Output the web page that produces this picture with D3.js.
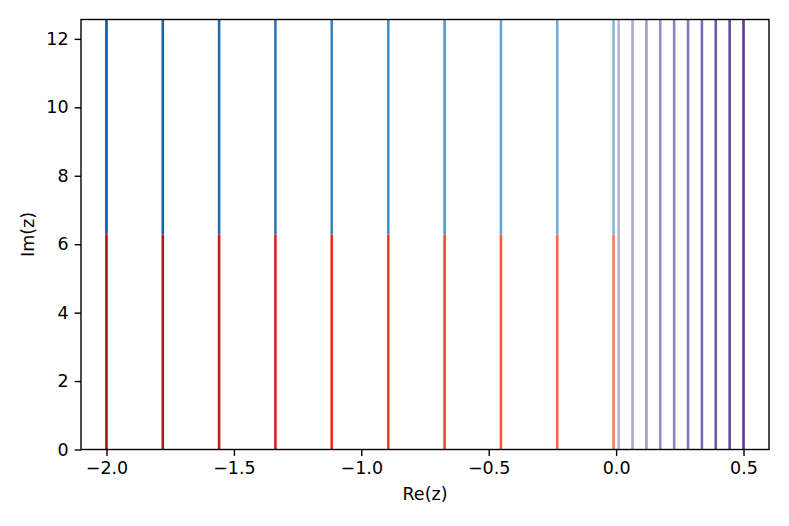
<!DOCTYPE html>
<html>
<head>
<meta charset="utf-8">
<script src="https://cdn.jsdelivr.net/npm/d3@7"></script>
<style>
  body { margin: 0; background: #fff; }
  text { font-family: "DejaVu Sans", sans-serif; }
</style>
</head>
<body>
<div id="chart"></div>
<script>
// vertical lines: left family split at Im = 2π (red below, blue above), right family purple
var leftX = [-2.0, -1.779, -1.558, -1.337, -1.116, -0.894, -0.673, -0.452, -0.231, -0.01];
var rightX = [0.01, 0.0644, 0.1189, 0.1733, 0.2278, 0.2822, 0.3367, 0.3911, 0.4456, 0.5];
var xTicks = [-2.0, -1.5, -1.0, -0.5, 0.0, 0.5];
var yTicks = [0, 2, 4, 6, 8, 10, 12];
var twoPi = 2 * Math.PI;

var margin = {top: 19.5, right: 20, bottom: 76.5, left: 81},
    width = 789 - margin.left - margin.right,
    height = 526 - margin.top - margin.bottom;

var x = d3.scaleLinear().domain([-2.1, 0.6]).range([0, width]);
var y = d3.scaleLinear().domain([0, 2 * twoPi]).range([height, 0]);

var svg = d3.select("#chart").append("svg")
    .attr("width", 789)
    .attr("height", 526)
  .append("g")
    .attr("transform", "translate(" + margin.left + "," + margin.top + ")");

var clip = svg.append("clipPath").attr("id", "clip")
  .append("rect").attr("width", width).attr("height", height);

var plot = svg.append("g").attr("clip-path", "url(#clip)");

function tL(i) { return 0.85 - 0.4 * i / (leftX.length - 1); }

// red lower halves
plot.selectAll(".red")
    .data(leftX)
  .enter().append("line")
    .attr("x1", function(d) { return x(d); })
    .attr("x2", function(d) { return x(d); })
    .attr("y1", y(0))
    .attr("y2", y(twoPi))
    .style("stroke", function(d, i) { return d3.interpolateReds(tL(i)); })
    .style("stroke-width", 2.6);

// blue upper halves
plot.selectAll(".blue")
    .data(leftX)
  .enter().append("line")
    .attr("x1", function(d) { return x(d); })
    .attr("x2", function(d) { return x(d); })
    .attr("y1", y(twoPi))
    .attr("y2", y(2 * twoPi))
    .style("stroke", function(d, i) { return d3.interpolateBlues(tL(i)); })
    .style("stroke-width", 2.6);

// purple full-height lines
plot.selectAll(".purple")
    .data(rightX)
  .enter().append("line")
    .attr("x1", function(d) { return x(d); })
    .attr("x2", function(d) { return x(d); })
    .attr("y1", y(0))
    .attr("y2", y(2 * twoPi))
    .style("stroke", function(d, i) { return d3.interpolatePurples(0.4 + 0.42 * i / (rightX.length - 1)); })
    .style("stroke-width", 2.6);

var fmtX = function(d) { return d3.format(".1f")(d).replace("-", "\u2212"); };

var xAxis = svg.append("g")
    .attr("transform", "translate(0," + height + ")")
    .call(d3.axisBottom(x).tickValues(xTicks).tickFormat(fmtX).tickSize(6.4).tickPadding(6));

var yAxis = svg.append("g")
    .call(d3.axisLeft(y).tickValues(yTicks).tickFormat(d3.format("d")).tickSize(6.4).tickPadding(6));

[xAxis, yAxis].forEach(function(a) {
  a.select(".domain").remove();
  a.selectAll("line").style("stroke", "#000").style("stroke-width", 1.4);
  a.selectAll("text").style("font-size", "17.5px").style("font-family", "DejaVu Sans").style("fill", "#000");
});

// frame
svg.append("rect")
    .attr("width", width)
    .attr("height", height)
    .style("fill", "none")
    .style("stroke", "#000")
    .style("stroke-width", 1.4);

svg.append("text")
    .attr("x", width / 2)
    .attr("y", height + 50)
    .style("text-anchor", "middle")
    .style("font-size", "17.5px")
    .text("Re(z)");

svg.append("text")
    .attr("transform", "rotate(-90)")
    .attr("x", -height / 2)
    .attr("y", -47)
    .style("text-anchor", "middle")
    .style("font-size", "17.5px")
    .text("Im(z)");
</script>
</body>
</html>
